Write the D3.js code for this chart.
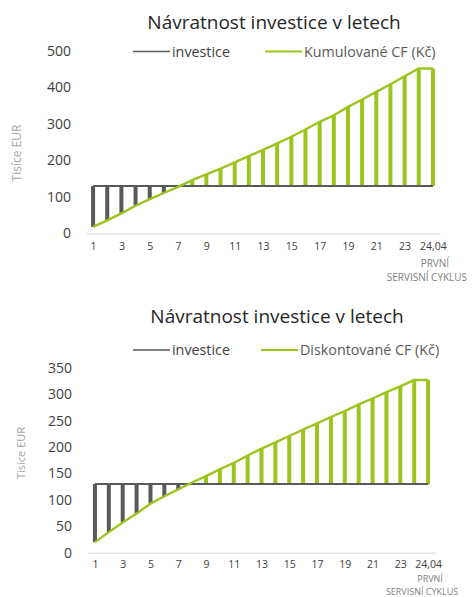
<!DOCTYPE html>
<html>
<head>
<meta charset="utf-8">
<script src="https://cdn.jsdelivr.net/npm/d3@7/dist/d3.min.js"></script>
<style>
  body { margin: 0; background: #fff; }
  svg { display: block; font-family: 'Open Sans', sans-serif; }
</style>
</head>
<body>
<div id="chart"></div>
<script>
// categories (years), last one is the first service cycle
const years = ['1', '2', '3', '4', '5', '6', '7', '8', '9', '10', '11', '12', '13',
  '14', '15', '16', '17', '18', '19', '20', '21', '22', '23', '24', '24,04']

const investice = [130, 130, 130, 130, 130, 130, 130, 130, 130, 130, 130, 130, 130,
  130, 130, 130, 130, 130, 130, 130, 130, 130, 130, 130, 130]

const kumulovaneCF = [18, 36, 55, 76, 94, 111, 128, 146, 162, 178, 195, 212, 229,
  247, 265, 285, 306, 324, 347, 367, 388, 409, 431, 452, 452]

const diskontovaneCF = [20, 39, 57, 74, 93, 107, 120, 133, 145, 158, 170, 184, 197,
  209, 221, 233, 245, 257, 268, 281, 292, 304, 315, 327, 327]

const ticksTop = [0, 100, 200, 300, 400, 500]
const ticksBottom = [0, 50, 100, 150, 200, 250, 300, 350]

const title = 'Návratnost investice v letech'
const lastLabelExtra = ['PRVNÍ', 'SERVISNÍ CYKLUS']

const green = '#9cc41e'
const gray = '#595959'

const svg = d3.select('#chart').append('svg')
  .attr('width', 475)
  .attr('height', 597)

function drawChart (g, cfg) {
  const x = d3.scalePoint()
    .domain(years)
    .range([cfg.x0, cfg.x1])
    .padding(0.5)

  const y = d3.scaleLinear()
    .domain([0, cfg.yMax])
    .range([cfg.y0, cfg.y1])

  // title
  g.append('text')
    .attr('x', cfg.titleX)
    .attr('y', cfg.titleY)
    .attr('text-anchor', 'middle')
    .attr('fill', '#262626')
    .style('font-size', '19px')
    .text(title)

  // legend
  const leg = g.append('g').attr('transform', `translate(0,${cfg.legendY})`)
  leg.append('line')
    .attr('x1', 133).attr('x2', 170)
    .attr('stroke', gray).attr('stroke-width', 1.6)
  leg.append('text')
    .attr('x', 172).attr('y', 5)
    .attr('fill', '#404040')
    .style('font-size', '14.3px')
    .text('investice')
  leg.append('line')
    .attr('x1', cfg.legendX2).attr('x2', cfg.legendX2 + 37)
    .attr('stroke', green).attr('stroke-width', 2)
  leg.append('text')
    .attr('x', cfg.legendX2 + 39).attr('y', 5)
    .attr('fill', '#595959')
    .style('font-size', '14.3px')
    .text(cfg.cfLabel)

  // y axis title
  g.append('text')
    .attr('transform', `translate(${cfg.yTitleX},${cfg.yTitleY}) rotate(-90)`)
    .attr('text-anchor', 'middle')
    .attr('fill', '#a6a6a6')
    .style('font-size', cfg.yTitleSize)
    .text('Tisíce EUR')

  // y axis
  const gy = g.append('g')
    .attr('transform', `translate(${cfg.yLabelX},0)`)
    .call(d3.axisLeft(y).tickValues(cfg.ticks).tickSize(0).tickPadding(0))
  gy.select('.domain').remove()
  gy.selectAll('text')
    .attr('fill', '#404040')
    .style('font-size', '14px')
    .style('font-family', "'Open Sans', sans-serif")

  // x axis
  const gx = g.append('g')
    .attr('transform', `translate(0,${cfg.y0})`)
    .call(d3.axisBottom(x)
      .tickSize(0)
      .tickPadding(cfg.xPad)
      .tickFormat((d, i) => (i % 2 === 0 ? d : '')))
  gx.select('.domain')
    .attr('stroke', '#d9d9d9')
    .attr('stroke-width', 1)
  gx.selectAll('text')
    .attr('fill', '#404040')
    .style('font-size', '10.5px')
    .style('font-family', "'Open Sans', sans-serif")

  // extra lines under the last label
  const lastX = x(years[years.length - 1])
  lastLabelExtra.forEach((t, i) => {
    g.append('text')
      .attr('x', lastX - (i === 0 ? -2 : 6))
      .attr('y', cfg.y0 + cfg.extraY[i])
      .attr('text-anchor', 'middle')
      .attr('fill', '#7f7f7f')
      .style('font-size', cfg.extraSize)
      .text(t)
  })

  const rows = years.map((d, i) => ({ year: d, inv: investice[i], cf: cfg.cf[i] }))

  // up / down bars
  g.append('g').selectAll('rect')
    .data(rows)
    .join('rect')
    .attr('x', d => x(d.year) - 2)
    .attr('width', 4)
    .attr('y', d => y(Math.max(d.inv, d.cf)))
    .attr('height', d => Math.abs(y(d.inv) - y(d.cf)))
    .attr('fill', d => (d.cf > d.inv ? green : gray))

  // investice line
  g.append('path')
    .datum(rows)
    .attr('fill', 'none')
    .attr('stroke', gray)
    .attr('stroke-width', 2)
    .attr('d', d3.line().x(d => x(d.year)).y(d => y(d.inv)))

  // CF line
  g.append('path')
    .datum(rows)
    .attr('fill', 'none')
    .attr('stroke', green)
    .attr('stroke-width', 2.4)
    .attr('d', d3.line().x(d => x(d.year)).y(d => y(d.cf)))
}

drawChart(svg.append('g'), {
  cf: kumulovaneCF,
  cfLabel: 'Kumulované CF (Kč)',
  yMax: 500,
  ticks: ticksTop,
  x0: 86,
  x1: 440,
  y0: 233.5,
  y1: 51,
  titleX: 274,
  titleY: 29,
  legendY: 51.5,
  legendX2: 265,
  yTitleX: 21,
  yTitleY: 153,
  yTitleSize: '12px',
  yLabelX: 71,
  xPad: 9,
  extraY: [33, 47],
  extraSize: '10px'
})

drawChart(svg.append('g'), {
  cf: diskontovaneCF,
  cfLabel: 'Diskontované CF (Kč)',
  yMax: 350,
  ticks: ticksBottom,
  x0: 88,
  x1: 435,
  y0: 552.7,
  y1: 367.9,
  titleX: 277,
  titleY: 323,
  legendY: 350,
  legendX2: 261,
  yTitleX: 25,
  yTitleY: 453,
  yTitleSize: '11px',
  yLabelX: 72,
  xPad: 8,
  extraY: [29.3, 41.8],
  extraSize: '9px'
})
</script>
</body>
</html>
